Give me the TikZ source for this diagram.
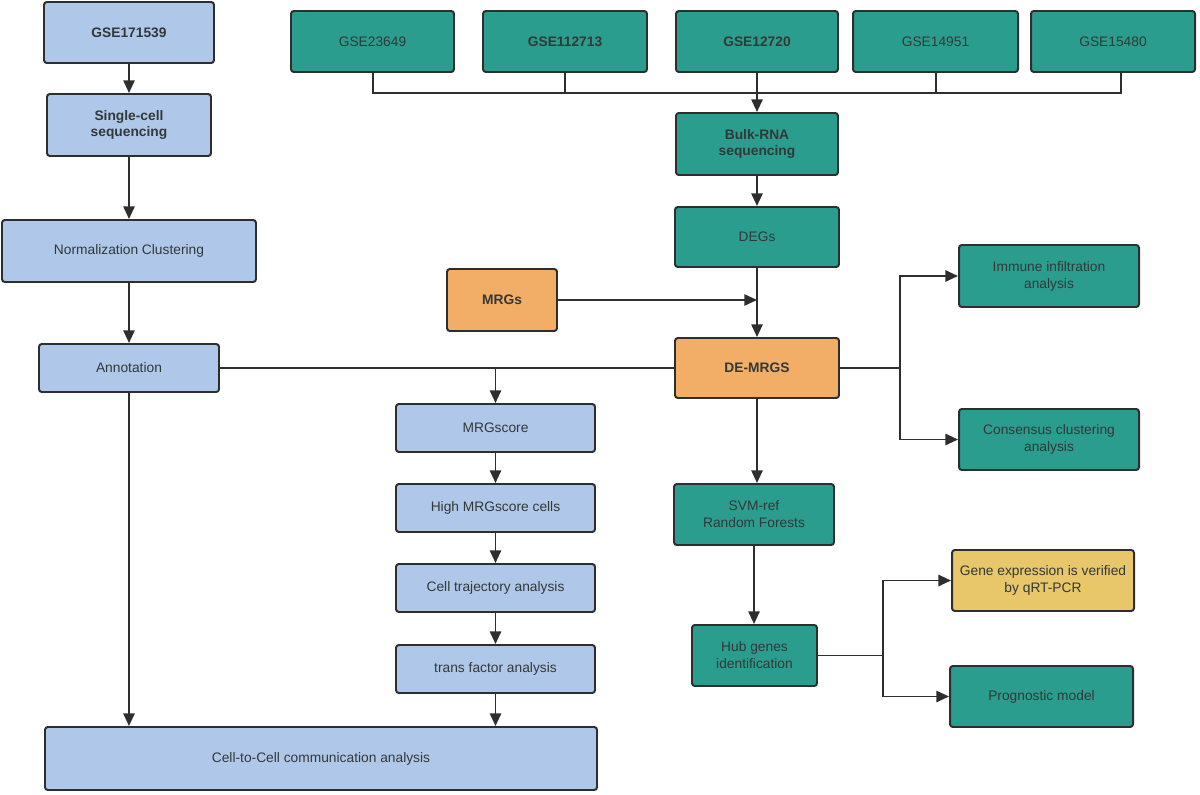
\documentclass[tikz,border=0pt]{standalone}
\usepackage{fontspec}
\setmainfont{Liberation Sans}
\usetikzlibrary{arrows.meta,calc}
\definecolor{cblue}{HTML}{AFC8E9}
\definecolor{cteal}{HTML}{2A9D8E}
\definecolor{corange}{HTML}{F2AE67}
\definecolor{cyellow}{HTML}{E8C66A}
\definecolor{cline}{HTML}{2E2E2E}
\definecolor{ctext}{HTML}{333838}
\tikzset{
  box/.style={draw=cline, line width=1.4pt, rounded corners=2pt, inner sep=0pt,
    align=center, text=ctext, font=\fontsize{9.8}{12}\selectfont},
  bluebox/.style={box, fill=cblue},
  tealbox/.style={box, fill=cteal},
  orangebox/.style={box, fill=corange},
  yellowbox/.style={box, fill=cyellow},
  conn/.style={draw=cline, line width=1.4pt},
  arr/.style={conn, -{Triangle[length=9pt,width=8pt]}},
}
% \bx{name}{style}{x1}{y1}{x2}{y2}{text}
\newcommand{\bx}[7]{%
  \node[#2, minimum width={(#5-#3)*0.025cm}, minimum height={(#6-#4)*0.025cm}]
    (#1) at ({(#3+#5)/2},{(#4+#6)/2}) {#7};}
\begin{document}
\begin{tikzpicture}[x=0.025cm,y=-0.025cm]
\useasboundingbox (0,0) rectangle (1200,794);
% left column
\bx{g171}{bluebox}{44}{2}{214}{63}{\bfseries GSE171539}
\bx{sc}{bluebox}{47}{94}{211}{156}{\bfseries Single-cell\\\bfseries sequencing}
\bx{norm}{bluebox}{2}{220}{256}{282}{Normalization Clustering}
\bx{ann}{bluebox}{39}{344}{219}{392}{Annotation}
\bx{cc}{bluebox}{45}{727}{597}{790}{Cell-to-Cell communication analysis}
% top row
\bx{g236}{tealbox}{291}{11}{454}{72}{GSE23649}
\bx{g112}{tealbox}{483}{11}{647}{72}{\bfseries GSE112713}
\bx{g127}{tealbox}{676}{11}{838}{72}{\bfseries GSE12720}
\bx{g149}{tealbox}{853}{11}{1018}{72}{GSE14951}
\bx{g154}{tealbox}{1031}{11}{1195}{72}{GSE15480}
% center column
\bx{bulk}{tealbox}{676}{113}{838}{175}{\bfseries Bulk-RNA\\\bfseries sequencing}
\bx{degs}{tealbox}{675}{207}{839}{267}{DEGs}
\bx{mrgs}{orangebox}{447}{269}{557}{331}{\bfseries MRGs}
\bx{demrgs}{orangebox}{675}{338}{839}{398}{\bfseries DE-MRGS}
\bx{svm}{tealbox}{674}{484}{834}{545}{SVM-ref\\Random Forests}
\bx{hub}{tealbox}{692}{625}{817}{686}{Hub genes\\identification}
% middle column
\bx{mrgscore}{bluebox}{396}{404}{595}{452}{MRGscore}
\bx{high}{bluebox}{396}{484}{595}{532}{High MRGscore cells}
\bx{traj}{bluebox}{396}{564}{595}{612}{Cell trajectory analysis}
\bx{trans}{bluebox}{396}{645}{595}{693}{trans factor analysis}
% right column
\bx{immune}{tealbox}{959}{245}{1139}{307}{Immune infiltration\\analysis}
\bx{consensus}{tealbox}{959}{409}{1139}{470}{Consensus clustering\\analysis}
\bx{gene}{yellowbox}{952}{550}{1134}{611}{Gene expression is verified\\by qRT-PCR}
\bx{prog}{tealbox}{950}{666}{1133}{727}{Prognostic model}
% coordinates
\coordinate (busL) at (373,93);
\coordinate (busR) at (1121,93);
\coordinate (brR) at (demrgs.east -| 900,0);
\coordinate (brH) at (hub.east -| 883,0);
% connectors, left column
\draw[arr] (g171.south) -- (sc.north);
\draw[arr] (sc.south) -- (norm.north);
\draw[arr] (norm.south) -- (ann.north);
\draw[arr] (ann.south) -- (ann.south |- cc.north);
% bus
\draw[conn] (g236.south -| busL) -- (busL) -- (busR) -- (busR |- g154.south);
\draw[conn] (g112.south) -- (g112.south |- busL);
\draw[conn] (g149.south) -- (g149.south |- busL);
\draw[arr] (g127.south) -- (bulk.north);
% center
\draw[arr] (bulk.south) -- (degs.north);
\draw[arr] (degs.south) -- (demrgs.north);
\draw[arr] (mrgs.east) -- (degs.south |- mrgs.east);
\draw[conn] (ann.east) -- (demrgs.west);
\draw[arr] (mrgscore.north |- ann.east) -- (mrgscore.north);
\draw[arr] (mrgscore.south) -- (high.north);
\draw[arr] (high.south) -- (traj.north);
\draw[arr] (traj.south) -- (trans.north);
\draw[arr] (trans.south) -- (trans.south |- cc.north);
% right
\draw[conn] (demrgs.east) -- (brR);
\draw[arr] (brR) |- (immune.west);
\draw[arr] (brR) |- (consensus.west);
\draw[arr] (demrgs.south) -- (demrgs.south |- svm.north);
\draw[arr] (svm.south) -- (svm.south |- hub.north);
\draw[conn] (hub.east) -- (brH);
\draw[arr] (brH) |- (gene.west);
\draw[arr] (brH) |- (prog.west);
\end{tikzpicture}
\end{document}
